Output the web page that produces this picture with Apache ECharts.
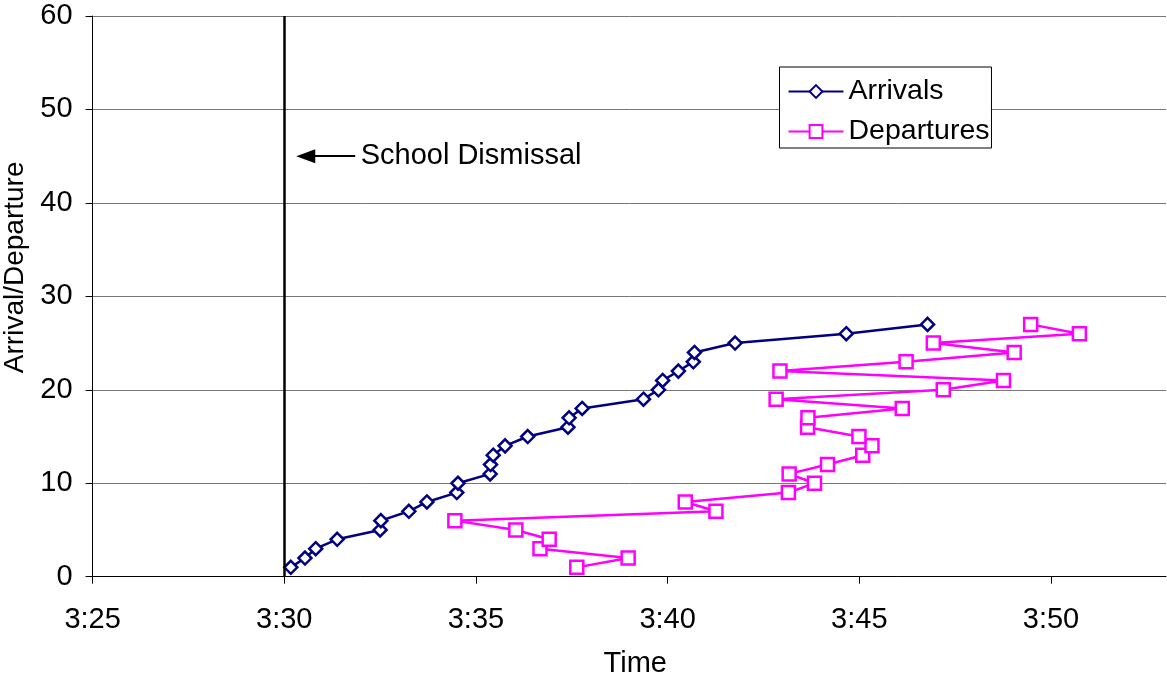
<!DOCTYPE html>
<html>
<head>
<meta charset="utf-8">
<script src="https://cdn.jsdelivr.net/npm/echarts@6/dist/echarts.min.js"></script>
<style>
html,body{margin:0;padding:0;background:#fff;}
#chart{width:1167px;height:680px;}
</style>
</head>
<body>
<div id="chart"></div>
<script>
// Times are minutes after 3:00
const arrivalTimes = [30.17,30.54,30.82,31.38,32.50,32.52,33.25,33.72,34.50,34.53,35.37,35.38,35.45,35.76,36.35,37.40,37.43,37.77,39.37,39.76,39.87,40.28,40.67,40.70,41.76,44.66,46.78];
const departureTimes = [37.63,38.97,36.67,36.91,36.04,34.45,41.26,40.46,43.15,43.83,43.17,44.17,45.09,45.33,44.99,43.65,43.66,46.12,42.83,47.19,48.76,42.93,46.22,49.04,46.93,50.74,49.47];
const counts = [1,2,3,4,5,6,7,8,9,10,11,12,13,14,15,16,17,18,19,20,21,22,23,24,25,26,27];
const xTicks = [25,30,35,40,45,50];
const seriesNames = ['Arrivals','Departures'];
const dismissalTime = 30;
const annotationText = 'School Dismissal';
const annotationLevel = 45;
const arrowTail = 31.85;
const arrowHead = 30.56;
const annotationTextX = 31.98;

const FONT = '"Liberation Sans", Arial, sans-serif';
const NAVY = '#000080';
const MAGENTA = '#FF00FF';

const fmtTime = v => '3:' + String(Math.round(v)).padStart(2,'0');

const chart = echarts.init(document.getElementById('chart'), null, {renderer:'canvas'});
chart.setOption({
  animation:false,
  backgroundColor:'#fff',
  textStyle:{fontFamily:FONT},
  grid:{left:92.6, right:1, top:16, bottom:103.3, containLabel:false, outerBoundsMode:'none'},
  legend:{
    data:seriesNames,
    orient:'vertical',
    left:779.5, top:67,
    padding:[10,2,2,8],
    borderColor:'#000', borderWidth:1, backgroundColor:'#fff',
    itemWidth:55, itemHeight:16, itemGap:11,
    selectedMode:false,
    textStyle:{fontSize:28.5, color:'#000', fontFamily:FONT}
  },
  xAxis:{
    type:'value', min:25, max:53, interval:5,
    name:'Time', nameLocation:'middle', nameGap:73,
    nameTextStyle:{fontSize:29, color:'#000', fontFamily:FONT, padding:[0,0,0,12]},
    axisLine:{show:true, lineStyle:{color:'#000', width:1}},
    axisTick:{show:true, inside:false, length:7, lineStyle:{color:'#000'}, customValues:xTicks},
    axisLabel:{fontSize:29, color:'#000', fontFamily:FONT, margin:29, formatter:fmtTime, customValues:xTicks},
    splitLine:{show:false}
  },
  yAxis:{
    type:'value', min:0, max:60, interval:10,
    name:'Arrival/Departure', nameLocation:'middle', nameGap:56,
    nameTextStyle:{fontSize:28, color:'#000', fontFamily:FONT, padding:[0,0,0,58]},
    axisLine:{show:true, lineStyle:{color:'#000', width:1}},
    axisTick:{show:true, inside:false, length:7, lineStyle:{color:'#000'}},
    axisLabel:{fontSize:29, color:'#000', fontFamily:FONT, margin:20},
    splitLine:{show:true, lineStyle:{color:'#777', width:1}}
  },
  series:[
    {
      name:seriesNames[0], type:'line',
      data:arrivalTimes.map((t,i)=>[t,counts[i]]),
      symbol:'diamond', symbolSize:13,
      itemStyle:{color:'#fff', borderColor:NAVY, borderWidth:2.5},
      lineStyle:{color:NAVY, width:2.5},
      emphasis:{disabled:true},
      z:3,
      markLine:{
        silent:true, animation:false,
        symbol:['none','none'],
        label:{show:false},
        data:[
          {xAxis:dismissalTime, lineStyle:{color:'#000', width:2.5, type:'solid'}},
          [
            {coord:[arrowTail, annotationLevel], symbol:'none', lineStyle:{color:'#000', width:2, type:'solid'}},
            {coord:[arrowHead, annotationLevel], symbol:'triangle', symbolSize:[14,19], lineStyle:{color:'#000', width:2, type:'solid'}}
          ]
        ]
      },
      markPoint:{
        silent:true, animation:false,
        symbol:'circle', symbolSize:1,
        itemStyle:{color:'rgba(0,0,0,0)'},
        label:{show:true, position:'right', distance:0, formatter:'{b}', fontSize:29, color:'#000', fontFamily:FONT},
        data:[{name:annotationText, coord:[annotationTextX, annotationLevel]}]
      }
    },
    {
      name:seriesNames[1], type:'line',
      data:departureTimes.map((t,i)=>[t,counts[i]]),
      symbol:'rect', symbolSize:13,
      itemStyle:{color:'#fff', borderColor:MAGENTA, borderWidth:2.5},
      lineStyle:{color:MAGENTA, width:2.5},
      emphasis:{disabled:true},
      z:2
    }
  ]
});
</script>
</body>
</html>
